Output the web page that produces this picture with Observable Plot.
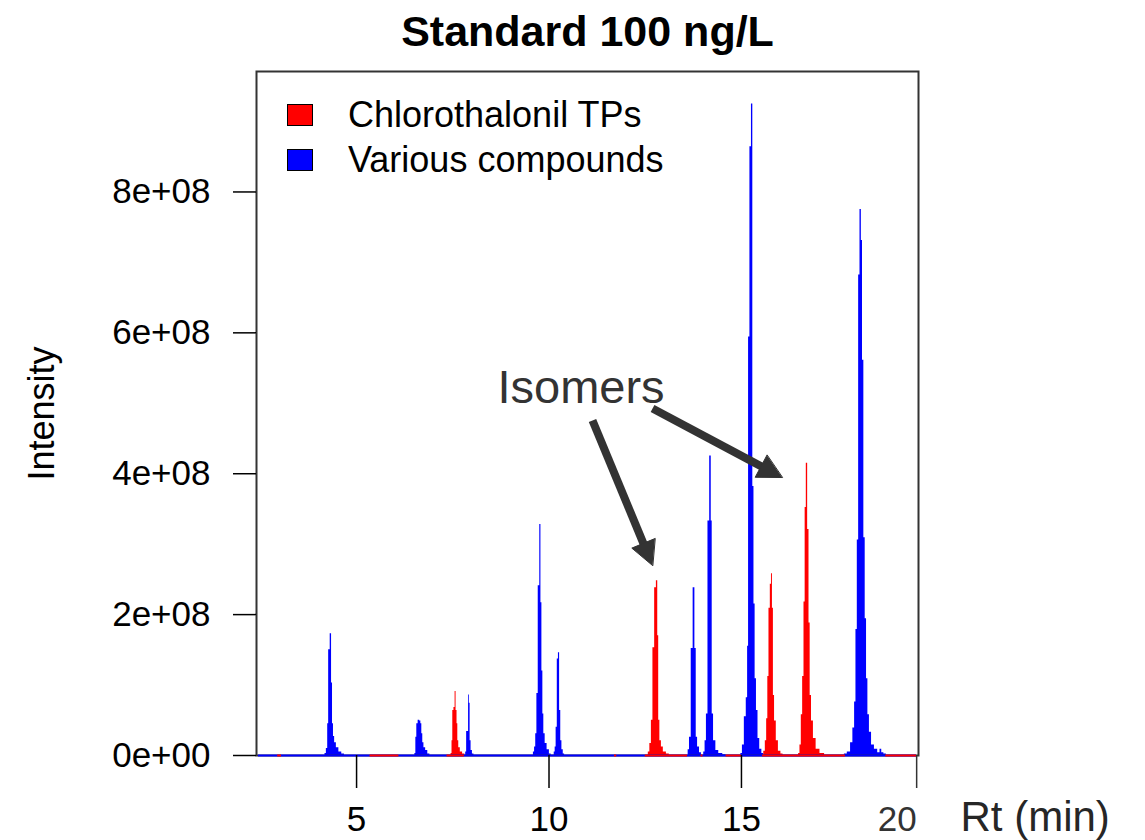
<!DOCTYPE html>
<html><head><meta charset="utf-8">
<script src="https://cdn.jsdelivr.net/npm/d3@7"></script>
<script src="https://cdn.jsdelivr.net/npm/@observablehq/plot@0.6"></script>
<style>
body{margin:0;background:#fff;}
#wrap{position:relative;width:1145px;height:840px;font-family:"Liberation Sans",Arial,sans-serif;}
#legend{position:absolute;left:287px;top:92px;}
.row{display:flex;align-items:center;height:45px;font-size:36px;color:#000;white-space:nowrap;}
.sw{width:24px;height:20px;border:1px solid #000;margin-right:35px;}
</style></head><body><div id="wrap"></div>
<script>
// ---- data (retention time in min, intensity in units of 1e8) ----
const peakBlue1 = [[4.17,0],[4.19,0.03],[4.24,0.10],[4.26,0.45],[4.29,1.50],[4.34,1.73],[4.36,1.03],[4.39,0.45],[4.41,0.27],[4.45,0.18],[4.50,0.11],[4.58,0.05],[4.65,0.02],[4.72,0]];
const peakBlue2 = [[6.50,0],[6.53,0.03],[6.55,0.26],[6.58,0.45],[6.62,0.50],[6.66,0.49],[6.68,0.45],[6.71,0.31],[6.73,0.18],[6.77,0.11],[6.82,0.07],[6.88,0.02],[6.93,0]];
const peakRed1 = [[7.44,0],[7.47,0.03],[7.49,0.21],[7.51,0.64],[7.55,0.68],[7.57,0.91],[7.60,0.64],[7.62,0.45],[7.64,0.21],[7.67,0.11],[7.72,0.05],[7.79,0.02],[7.84,0]];
const peakBlue3 = [[7.82,0],[7.85,0.05],[7.87,0.34],[7.90,0.34],[7.92,0.86],[7.94,0.74],[7.96,0.21],[7.99,0.07],[8.03,0.02],[8.07,0]];
const peakBlue4 = [[9.58,0],[9.61,0.05],[9.64,0.12],[9.67,0.31],[9.70,0.88],[9.74,2.41],[9.78,3.28],[9.80,2.17],[9.83,1.20],[9.85,0.59],[9.88,0.31],[9.92,0.17],[9.98,0.08],[10.04,0.02],[10.07,0]];
const peakBlue5 = [[10.12,0],[10.15,0.05],[10.17,0.12],[10.20,0.40],[10.23,1.37],[10.26,1.46],[10.29,0.64],[10.32,0.21],[10.35,0.08],[10.39,0.02],[10.42,0]];
const peakRed2 = [[12.56,0],[12.60,0.05],[12.64,0.17],[12.68,0.50],[12.72,1.53],[12.77,2.38],[12.81,2.48],[12.84,1.70],[12.86,0.50],[12.90,0.21],[12.94,0.12],[13.00,0.05],[13.10,0.02],[13.15,0]];
const peakBlue6 = [[13.60,0],[13.63,0.08],[13.67,0.26],[13.72,1.52],[13.77,2.38],[13.81,1.52],[13.84,0.26],[13.88,0.12],[13.94,0.04],[13.98,0]];
const peakBlue7 = [[14.00,0],[14.04,0.05],[14.07,0.21],[14.11,0.59],[14.15,3.33],[14.20,4.25],[14.23,3.33],[14.25,0.59],[14.30,0.21],[14.37,0.07],[14.45,0.03],[14.58,0.01],[14.62,0]];
const peakBlue8 = [[14.97,0],[15.00,0.03],[15.05,0.15],[15.10,0.55],[15.15,0.82],[15.17,1.55],[15.20,5.94],[15.24,8.64],[15.28,9.25],[15.31,3.82],[15.34,2.15],[15.37,1.09],[15.41,0.64],[15.45,0.24],[15.50,0.09],[15.56,0.03],[15.60,0]];
const peakRed3 = [[15.56,0],[15.60,0.06],[15.64,0.21],[15.67,0.52],[15.70,1.12],[15.73,2.09],[15.77,2.43],[15.79,2.58],[15.82,2.09],[15.84,0.85],[15.88,0.49],[15.93,0.21],[15.99,0.06],[16.06,0.02],[16.10,0]];
const peakRed4 = [[16.47,0],[16.50,0.03],[16.54,0.15],[16.57,0.58],[16.61,1.12],[16.64,2.18],[16.67,3.52],[16.70,4.15],[16.74,3.21],[16.77,1.88],[16.80,0.85],[16.84,0.49],[16.90,0.24],[16.98,0.09],[17.10,0.03],[17.22,0]];
const peakBlue9 = [[17.65,0],[17.70,0.02],[17.80,0.05],[17.87,0.18],[17.92,0.39],[17.96,0.76],[17.99,1.79],[18.03,3.06],[18.06,6.82],[18.10,7.75],[18.13,7.31],[18.16,5.61],[18.20,3.09],[18.23,1.94],[18.27,1.09],[18.30,0.58],[18.35,0.33],[18.41,0.15],[18.50,0.09],[18.58,0.04],[18.62,0.09],[18.67,0.04],[18.73,0.02],[18.80,0]];

const bluePeaks = [peakBlue1, peakBlue2, peakBlue3, peakBlue4, peakBlue5, peakBlue6, peakBlue7, peakBlue8, peakBlue9];
const redPeaks = [peakRed1, peakRed2, peakRed3, peakRed4];

const blueBaseline = [[2.45, 19.55]];
const redBaseline = [[2.95, 3.05], [5.35, 6.1], [7.35, 7.8], [11.7, 11.76], [12.5, 13.6], [13.95, 14.0], [14.6, 15.0], [15.55, 17.7], [18.75, 19.55]];

const seriesNames = ["Chlorothalonil TPs", "Various compounds"];
const seriesColors = ["#FF0000", "#0000FF"];

const xTickValues = [5, 10, 15];
const xTickLabels = ["5", "10", "15"];
const xExtraTick = [19.5];
const xExtraLabel = ["20"];
const yTickValues = [0, 2e8, 4e8, 6e8, 8e8];
const yTickLabels = ["0e+00", "2e+08", "4e+08", "6e+08", "8e+08"];

const annotationText = [{rt: 8.66, intensity: 5.01e8, label: "Isomers"}];
const arrowsData = [
  {id: "a1", rt1: 11.13, i1: 4.756e8, rt2: 12.69, i2: 2.697e8},
  {id: "a2", rt1: 12.69, i1: 4.926e8, rt2: 16.06, i2: 3.946e8}
];

// ---- build ----
const W = 1145, H = 840, mL = 256, mR = 227, mT = 71, mB = 85;
const xDomain = [2.4, 19.6], yDomain = [0, 9.71e8];
const SCALE = 1e8;

function toRows(peaks, prefix) {
  const out = [];
  peaks.forEach((pk, k) => pk.forEach(([rt, v]) => out.push({peak: prefix + k, rt, intensity: v * SCALE})));
  return out;
}
const blueRows = toRows(bluePeaks, "b");
const redRows = toRows(redPeaks, "r");

const xs = Plot.scale({x: {domain: xDomain, range: [mL, W - mR]}});
const ys = Plot.scale({y: {domain: yDomain, range: [H - mB, mT]}});
const headL = 24, headW = 25;
const shafts = [], heads = [];
arrowsData.forEach(a => {
  const p1 = [xs.apply(a.rt1), ys.apply(a.i1)], p2 = [xs.apply(a.rt2), ys.apply(a.i2)];
  const dx = p2[0] - p1[0], dy = p2[1] - p1[1], len = Math.hypot(dx, dy);
  const u = [dx / len, dy / len], n = [-u[1], u[0]];
  const se = [p2[0] - u[0] * (headL - 3), p2[1] - u[1] * (headL - 3)];
  shafts.push({rt1: a.rt1, i1: a.i1, rt2: xs.invert(se[0]), i2: ys.invert(se[1])});
  const b = [p2[0] - u[0] * headL, p2[1] - u[1] * headL];
  const pts = [p2, [b[0] + n[0] * headW / 2, b[1] + n[1] * headW / 2], [b[0] - n[0] * headW / 2, b[1] - n[1] * headW / 2]];
  pts.forEach(p => heads.push({id: a.id, rt: xs.invert(p[0]), intensity: ys.invert(p[1])}));
});

const chart = Plot.plot({
  width: W, height: H,
  marginLeft: mL, marginRight: mR, marginTop: mT, marginBottom: mB,
  style: {fontFamily: '"Liberation Sans", Arial, sans-serif', background: "white", overflow: "visible"},
  x: {domain: xDomain},
  y: {domain: yDomain},
  marks: [
    Plot.areaY(blueRows, {x: "rt", y: "intensity", z: "peak", fill: seriesColors[1], curve: "step"}),
    Plot.areaY(redRows, {x: "rt", y: "intensity", z: "peak", fill: seriesColors[0], curve: "step"}),
    Plot.frame({stroke: "#333", strokeWidth: 2}),
    Plot.ruleY(blueBaseline, {y: d => 0, x1: d => d[0], x2: d => d[1], stroke: seriesColors[1], strokeWidth: 2}),
    Plot.ruleY(redBaseline, {y: d => 0, x1: d => d[0], x2: d => d[1], stroke: seriesColors[0], strokeWidth: 2}),
    Plot.axisY({ticks: yTickValues, tickFormat: d => yTickLabels[yTickValues.indexOf(d)], tickSize: 23, tickPadding: 23, fontSize: 35, label: null, color: "#000", strokeWidth: 1.5}),
    Plot.axisX({ticks: xTickValues, tickFormat: d => xTickLabels[xTickValues.indexOf(d)], tickSize: 33, tickPadding: 18, fontSize: 35, label: null, color: "#000", strokeWidth: 1.5}),
    Plot.axisX({ticks: xExtraTick, tickFormat: d => xExtraLabel[0], tickSize: 33, tickPadding: 18, fontSize: 35, label: null, textAnchor: "end", dx: 2, color: "#333", strokeWidth: 1.5}),
    Plot.text(["Standard 100 ng/L"], {frameAnchor: "top", dy: -26, lineAnchor: "bottom", fontSize: 43, fontWeight: "bold", fill: "#000"}),
    Plot.text(["Intensity"], {frameAnchor: "left", dx: -214, rotate: -90, textAnchor: "middle", lineAnchor: "middle", fontSize: 36, fill: "#000"}),
    Plot.text(["Rt (min)"], {frameAnchor: "bottom-right", dx: 42, dy: 75, textAnchor: "start", lineAnchor: "bottom", fontSize: 42, fill: "#262626"}),
    Plot.text(annotationText, {x: "rt", y: "intensity", text: "label", textAnchor: "start", lineAnchor: "bottom", fontSize: 47, fill: "#333"}),
    Plot.link(shafts, {x1: "rt1", y1: "i1", x2: "rt2", y2: "i2", stroke: "#333", strokeWidth: 8}),
    Plot.line(heads, {x: "rt", y: "intensity", z: "id", curve: "linear-closed", fill: "#333", stroke: "#333", strokeWidth: 1})
  ]
});

const wrap = document.getElementById("wrap");
wrap.appendChild(chart);
const legend = document.createElement("div");
legend.id = "legend";
seriesNames.forEach((name, i) => {
  const row = document.createElement("div");
  row.className = "row";
  const sw = document.createElement("div");
  sw.className = "sw";
  sw.style.background = seriesColors[i];
  const t = document.createElement("span");
  t.textContent = name;
  row.appendChild(sw); row.appendChild(t);
  legend.appendChild(row);
});
wrap.appendChild(legend);
</script></body></html>
